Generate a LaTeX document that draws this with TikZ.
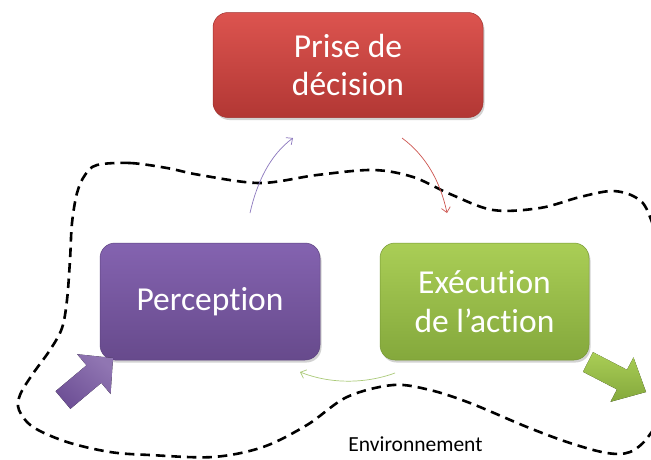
\documentclass[tikz,border=0pt]{standalone}
\usepackage{fontspec}
\setmainfont[Ligatures={NoCommon}]{Carlito}
\usetikzlibrary{arrows.meta,shadows}
\definecolor{redtop}{RGB}{220,84,79}
\definecolor{redbot}{RGB}{178,55,52}
\definecolor{redline}{RGB}{160,48,45}
\definecolor{purtop}{RGB}{132,99,176}
\definecolor{purbot}{RGB}{103,74,140}
\definecolor{purline}{RGB}{94,68,128}
\definecolor{grntop}{RGB}{170,206,86}
\definecolor{grnbot}{RGB}{132,168,60}
\definecolor{grnline}{RGB}{118,152,52}
\definecolor{thinpur}{RGB}{140,120,190}
\definecolor{thinred}{RGB}{205,85,80}
\definecolor{thingrn}{RGB}{170,202,120}
\definecolor{arrpur}{RGB}{125,94,165}
\definecolor{arrpurd}{RGB}{110,80,150}
\begin{document}
\begin{tikzpicture}[x=1pt,y=-1pt,
  box/.style={rounded corners=15pt, draw=#1line, line width=0.5pt,
    top color=#1top, bottom color=#1bot, text=white,
    font=\fontsize{33.5}{38.5}\selectfont, align=center, inner sep=0pt,
    drop shadow={opacity=0.35, shadow xshift=1.5pt, shadow yshift=-2.5pt}},
  thin/.style={line width=0.7pt, -{Straight Barb[length=5pt,width=9pt]}},
  envline/.style={line width=2.6pt, dash pattern=on 9.5pt off 6pt, black}]
\useasboundingbox (0,0) rectangle (651,459);
\fill[white] (0,0) rectangle (651,459);
% environment boundary
\begin{scope}
\clip (0,0) rectangle (651,459);
\draw[envline] plot[smooth cycle, tension=0.55] coordinates {
 (97,165) (130,163) (167,168) (200,175) (260,183) (317,175) (373,170)
 (413,177) (450,194) (493,210) (540,208) (580,197) (612,191) (635,197)
 (648,212) (662,260) (665,330) (660,410) (648,437) (630,452) (607,453)
 (570,443) (527,427) (470,403) (430,390) (393,385) (347,397) (307,425)
 (263,447) (213,457) (150,455) (110,452) (67,442) (33,427) (19,410)
 (20,395) (32,375) (50,350) (62,328) (67,300) (70,260) (72,223)
 (77,193) (85,175)};
\end{scope}
% boxes
\node[box=red, minimum width=270pt, minimum height=105pt] (dec) at (348,65) {Prise de\\décision};
\node[box=pur, minimum width=220pt, minimum height=117pt] (perc) at (210,301.5) {Perception};
\node[box=grn, minimum width=209pt, minimum height=117pt] (exec) at (484.5,301.5) {Exécution\\de l’action};
% thin arrows
\coordinate (pa) at (250,213); \coordinate (pb) at (293,138);
\coordinate (ra) at (402,138); \coordinate (rb) at (447,213);
\coordinate (ga) at (395,373); \coordinate (gb) at (300,372);
\draw[thin, thinpur] (pa) .. controls (257,182) and (270,155) .. (pb);
\draw[thin, thinred] (ra) .. controls (425,155) and (440,180) .. (rb);
\draw[thin, thingrn] (ga) .. controls (365,384) and (330,384) .. (gb);
% thick arrows
\fill[top color=arrpur!85!white, bottom color=arrpurd, shading angle=-40]
  (55.6,391.2) -- (86.5,365.3) -- (77.2,354.2) -- (113,358)
  -- (110.6,394) -- (101.3,382.9) -- (70.4,408.8) -- cycle;
\fill[top color=grntop, bottom color=grnbot]
  (593,352.2) -- (627,369.8) -- (633.5,357.4) -- (646,392)
  -- (610.5,401.8) -- (617,389.4) -- (583,371.8) -- cycle;
% label
\node[anchor=base, font=\fontsize{21.5}{24}\selectfont, inner sep=0pt] (env) at (415.5,451) {Environnement};
\end{tikzpicture}
\end{document}
